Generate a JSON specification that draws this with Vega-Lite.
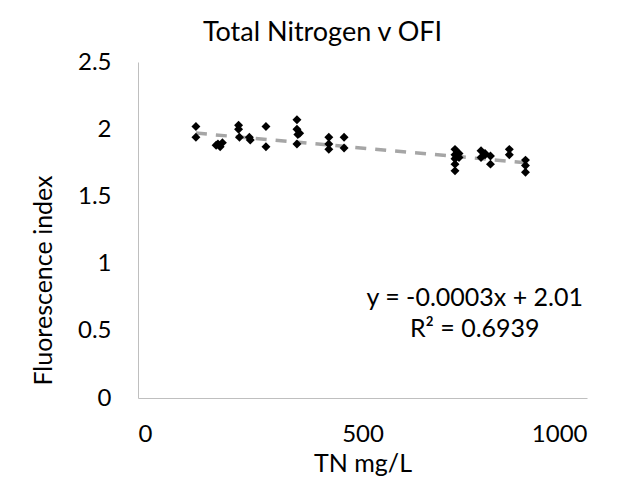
{
  "$schema": "https://vega.github.io/schema/vega-lite/v6.json",
  "autosize": "none",
  "width": 449,
  "height": 336,
  "padding": {"left": 138, "top": 62, "right": 44, "bottom": 81},
  "background": "white",
  "config": {"font": "Lato", "view": {"stroke": null}},
  "title": {"text": "Total Nitrogen v OFI", "fontSize": 27, "fontWeight": "normal", "color": "#000000", "font": "Lato", "offset": 3, "anchor": "middle", "dx": -40},
  "datasets": {
    "points": [
      {"tn": 129, "fi": 2.02}, {"tn": 129, "fi": 1.94},
      {"tn": 174, "fi": 1.88}, {"tn": 178, "fi": 1.89}, {"tn": 183, "fi": 1.87}, {"tn": 188, "fi": 1.90},
      {"tn": 224, "fi": 2.03}, {"tn": 224, "fi": 2.0}, {"tn": 226, "fi": 1.94},
      {"tn": 248, "fi": 1.94}, {"tn": 250, "fi": 1.92},
      {"tn": 285, "fi": 2.02}, {"tn": 285, "fi": 1.87},
      {"tn": 354, "fi": 2.07}, {"tn": 354, "fi": 2.0}, {"tn": 356, "fi": 1.96}, {"tn": 354, "fi": 1.89}, {"tn": 360, "fi": 1.97},
      {"tn": 425, "fi": 1.94}, {"tn": 425, "fi": 1.89}, {"tn": 425, "fi": 1.85},
      {"tn": 459, "fi": 1.94}, {"tn": 459, "fi": 1.86},
      {"tn": 706, "fi": 1.85}, {"tn": 706, "fi": 1.81}, {"tn": 706, "fi": 1.78}, {"tn": 706, "fi": 1.74}, {"tn": 706, "fi": 1.69},
      {"tn": 715, "fi": 1.82}, {"tn": 715, "fi": 1.79},
      {"tn": 764, "fi": 1.84}, {"tn": 764, "fi": 1.79},
      {"tn": 773, "fi": 1.82}, {"tn": 773, "fi": 1.81},
      {"tn": 785, "fi": 1.80}, {"tn": 785, "fi": 1.74},
      {"tn": 827, "fi": 1.85}, {"tn": 827, "fi": 1.81},
      {"tn": 863, "fi": 1.77}, {"tn": 863, "fi": 1.73}, {"tn": 863, "fi": 1.68}
    ],
    "trend": [{"tn": 129, "fi": 1.971}, {"tn": 866, "fi": 1.75}],
    "notes": [
      {"tn": 750, "fi": 0.745, "label": "y = -0.0003x + 2.01"},
      {"tn": 750, "fi": 0.51, "label": "R² = 0.6939"}
    ]
  },
  "layer": [
    {
      "data": {"name": "trend"},
      "mark": {"type": "line", "color": "#a6a6a6", "strokeWidth": 3.5, "strokeDash": [11, 9]},
      "encoding": {
        "x": {"field": "tn", "type": "quantitative"},
        "y": {"field": "fi", "type": "quantitative"}
      }
    },
    {
      "data": {"name": "points"},
      "mark": {"type": "point", "shape": "diamond", "filled": true, "color": "#000000", "size": 80, "opacity": 1},
      "encoding": {
        "x": {"field": "tn", "type": "quantitative", "scale": {"domain": [0, 1000], "nice": false},
          "axis": {"values": [0, 500, 1000], "format": "d", "grid": false, "ticks": false, "domainColor": "#bfbfbf", "domainWidth": 1,
            "labelFontSize": 24, "labelColor": "#000000", "labelPadding": 24, "labelFont": "Lato",
            "title": "TN mg/L", "titleFontSize": 25, "titleFontWeight": "normal", "titleColor": "#000000", "titlePadding": 5, "titleFont": "Lato"}},
        "y": {"field": "fi", "type": "quantitative", "scale": {"domain": [0, 2.5], "nice": false},
          "axis": {"values": [0, 0.5, 1, 1.5, 2, 2.5], "format": "~g", "grid": false, "ticks": false, "domainColor": "#bfbfbf", "domainWidth": 1,
            "labelFontSize": 24, "labelColor": "#000000", "labelPadding": 27, "labelFont": "Lato",
            "title": "Fluorescence index", "titleFontSize": 25, "titleFontWeight": "normal", "titleColor": "#000000",
            "titleX": -95, "titleY": 218, "titleBaseline": "middle", "titleAlign": "center", "titleAngle": 270, "titleFont": "Lato"}}
      }
    },
    {
      "data": {"name": "notes"},
      "mark": {"type": "text", "fontSize": 25, "color": "#000000", "align": "center", "baseline": "middle", "font": "Lato"},
      "encoding": {
        "x": {"field": "tn", "type": "quantitative"},
        "y": {"field": "fi", "type": "quantitative"},
        "text": {"field": "label"}
      }
    }
  ]
}
